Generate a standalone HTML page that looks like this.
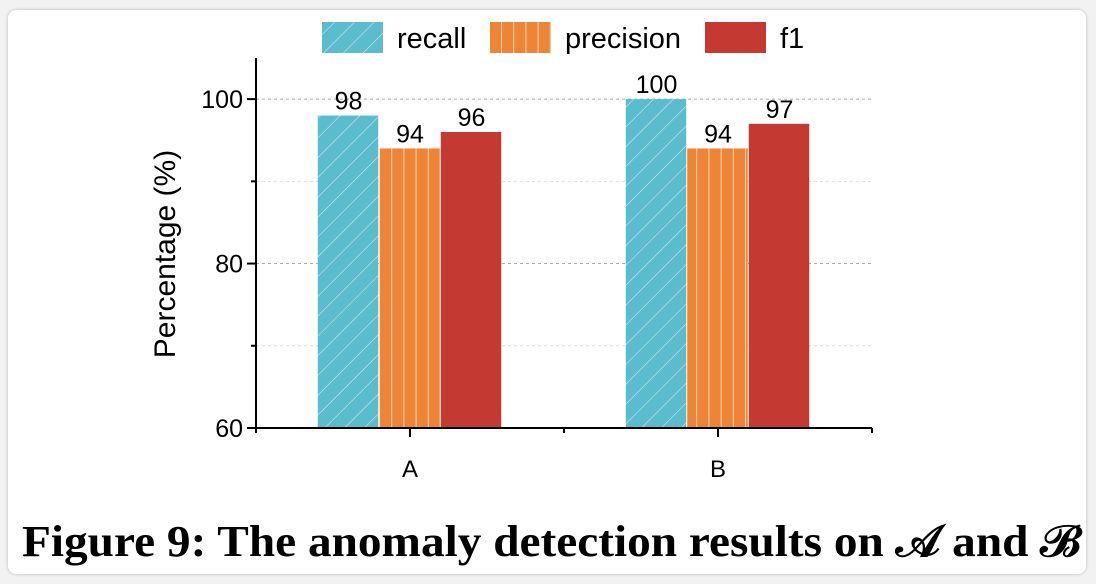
<!DOCTYPE html>
<html><head><meta charset="utf-8"><style>
body{margin:0;width:1096px;height:584px;background:#f2f2f2;overflow:hidden;font-family:"Liberation Sans",sans-serif}
#card{position:absolute;left:8px;top:10px;width:1078px;height:564px;background:#fff;border-radius:8px;box-shadow:0 0 3px rgba(0,0,0,.25)}
</style></head><body>
<div id="card"></div>
<svg id="chart" width="1096" height="584" style="position:absolute;left:0;top:0">
<defs>
<pattern id="hatch" patternUnits="userSpaceOnUse" width="14" height="14" patternTransform="rotate(45)">
<rect width="14" height="14" fill="#5bbccd"/><line x1="0" y1="0" x2="0" y2="14" stroke="#fff" stroke-width="1" opacity="0.8"/></pattern>
<pattern id="vstripe" patternUnits="userSpaceOnUse" width="12.2" height="10" x="379">
<rect width="12.2" height="10" fill="#ee8536"/><line x1="0.5" y1="0" x2="0.5" y2="10" stroke="#fbd4b0" stroke-width="1"/></pattern>
</defs>
<text x="22" y="556" textLength="1058" lengthAdjust="spacingAndGlyphs" font-family="Liberation Serif, serif" font-weight="bold" font-size="44">Figure 9: The anomaly detection results on 𝒜 and ℬ</text>
</svg>
<script>
const categories=["A","B"];
const seriesNames=["recall","precision","f1"];
const recall=[98,100];
const precision=[94,94];
const f1=[96,97];
const yTicks=[60,70,80,90,100];
const yLabels=["60","","80","","100"];
const svg=document.getElementById('chart');
const NS="http://www.w3.org/2000/svg";
function mk(t,a,p){const e=document.createElementNS(NS,t);for(const k in a)e.setAttribute(k,a[k]);(p||svg).appendChild(e);return e;}
const x0=256,x1=872,yb=428,yt=58,ymin=60,ymax=105;
const y=v=>yb-(v-ymin)/(ymax-ymin)*(yb-yt);
const band=(x1-x0)/categories.length;
const xc=i=>x0+band*(i+0.5);
const fills=["url(#hatch)","url(#vstripe)","#c43a33"];
const data=[recall,precision,f1];
const bw=61.5;
yTicks.forEach((v,i)=>{if(v===ymin)return;
const g=mk('line',{x1:x0,x2:x1,y1:y(v),y2:y(v),stroke:i%2?'#ddd':'#aaa','stroke-dasharray':'3,3'});
});
categories.forEach((c,i)=>{data.forEach((s,j)=>{
const bx=xc(i)+(j-1.5)*bw;
const r=mk('rect',{x:bx,y:y(s[i]),width:bw-1,height:yb-y(s[i]),fill:fills[j]});

const t=mk('text',{x:bx+bw/2,y:y(s[i])-6,'text-anchor':'middle','font-size':25,fill:'#000'});t.textContent=s[i];

});});
const ya=mk('line',{x1:x0,x2:x0,y1:yt,y2:yb,stroke:'#000','stroke-width':2});

const xa=mk('line',{x1:x0-1,x2:x1,y1:yb,y2:yb,stroke:'#000','stroke-width':2});

yTicks.forEach((v,i)=>{
mk('line',{x1:x0-(yLabels[i]?9:5),x2:x0,y1:y(v),y2:y(v),stroke:'#000','stroke-width':2});
if(yLabels[i]){const t=mk('text',{x:x0-13,y:y(v)+9,'text-anchor':'end','font-size':25});t.textContent=yLabels[i];
}
});
for(let k=0;k<=categories.length*2;k++){const xx=x0+band/2*k;
mk('line',{x1:xx,x2:xx,y1:yb,y2:yb+(k%2?9:5),stroke:'#000','stroke-width':2});}
categories.forEach((c,i)=>{const t=mk('text',{x:xc(i),y:yb+49,'text-anchor':'middle','font-size':24});t.textContent=c;
});
const yt2=mk('text',{x:0,y:0,'text-anchor':'middle','font-size':30,transform:'translate(175,254) rotate(-90)'});yt2.textContent='Percentage (%)';

const lx=[322,490,705];
seriesNames.forEach((n,j)=>{
const g=mk('g',{});

mk('rect',{x:lx[j],y:22,width:61,height:31,fill:fills[j]},g);
const t=mk('text',{x:lx[j]+75,y:48,'font-size':29},g);t.textContent=n;
});
</script>
</body></html>
